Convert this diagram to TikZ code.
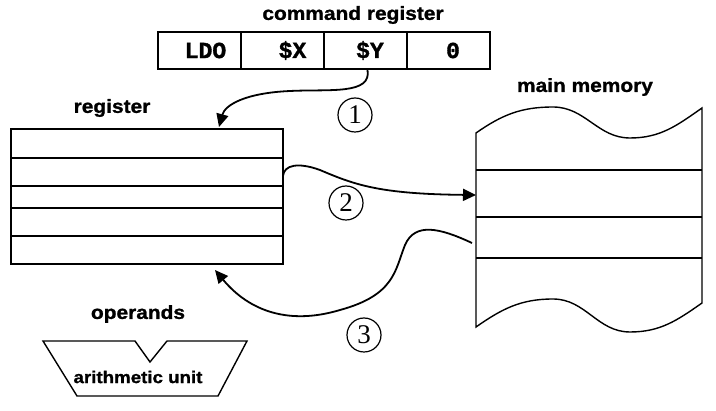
\documentclass[tikz,border=0pt]{standalone}
\usepackage{fontspec}
\usetikzlibrary{arrows.meta}
\setmainfont{Liberation Sans}
\newfontfamily\lblfont[FakeStretch=1.1,BoldFeatures={FakeBold=1.2}]{Liberation Sans}
\newfontfamily\codefont[BoldFeatures={FakeBold=1.5}]{Liberation Mono}
\newfontfamily\numfont{Liberation Serif}

\begin{document}
\begin{tikzpicture}[x=1pt,y=-1pt,line width=1.4pt]
\tikzstyle{every node}+=[inner sep=0pt]
\tikzstyle{cell}=[draw,minimum width=83pt,minimum height=37pt,font=\codefont\bfseries\fontsize{23}{23}\selectfont]
\tikzstyle{title}=[font=\lblfont\bfseries\fontsize{19}{19}\selectfont]
\tikzstyle{unittext}=[font=\lblfont\bfseries\fontsize{17}{17}\selectfont]
\tikzstyle{numcirc}=[draw,circle,line width=1.2pt,minimum size=34pt,font=\numfont\fontsize{27}{27}\selectfont]
\tikzstyle{flow}=[line width=1.8pt,-{Triangle[length=13pt,width=12pt]}]
\useasboundingbox (0,0) rectangle (716,411);
% command register
\node[title] (cmdlbl) at (353,15) {command register};
\node[cell] (op) at (199.5,50.5) {\hspace*{12pt}LDO};
\node[cell] (rx) at (282.5,50.5) {\hspace*{20pt}\$X};
\node[cell] (ry) at (365.5,50.5) {\hspace*{9pt}\$Y};
\node[cell] (imm) at (448.5,50.5) {\hspace*{9pt}0};
% register
\node[title] (reglbl) at (112,108) {register};
\node[draw,minimum width=272pt,minimum height=135pt] (reg) at (147,196.5) {};
\foreach \y in {158,186,208,236}
  \draw (reg.west |- 0,\y) -- (reg.east |- 0,\y);
\coordinate (regin) at (219,127);
\coordinate (regout) at (283,176);
\coordinate (regback) at (215,270);
% main memory
\node[title] (memlbl) at (585,87) {main memory};
\draw (476,133) to[out=35,in=180] (553,107) to[out=0,in=180] (630,138) to[out=0,in=215] (702,108)
  -- (702,303) to[out=215,in=0] (630,332) to[out=180,in=0] (553,299) to[out=180,in=35] (476,327) -- cycle;
\foreach \y in {170,217,258}
  \draw (476,\y) -- (702,\y);
\coordinate (memin) at (476,195);
\coordinate (memout) at (472,243);
% arithmetic unit
\node[title] (oplbl) at (138,314) {operands};
\draw (43,341) -- (135,341) -- (150,362) -- (167,341) -- (247,341) -- (218,396) -- (77,396) -- cycle;
\node[unittext] (alu) at (138,377) {arithmetic unit};
% transfers
\draw[flow] ([xshift=2pt]ry.south) .. controls (372,95) and (330,89) .. (290,91)
  .. controls (245,93) and (225,105) .. (regin);
\draw[flow] (regout) .. controls (284,165) and (298,162) .. (320,170)
  .. controls (355,185) and (380,194) .. (memin);
\draw[flow] (memout) .. controls (440,228) and (415,222) .. (405,245)
  .. controls (395,270) and (395,295) .. (340,310)
  .. controls (290,325) and (250,312) .. (regback);
\node[numcirc] (n1) at (355,115) {1};
\node[numcirc] (n2) at (346,203) {2};
\node[numcirc] (n3) at (364,335) {3};
\end{tikzpicture}
\end{document}
